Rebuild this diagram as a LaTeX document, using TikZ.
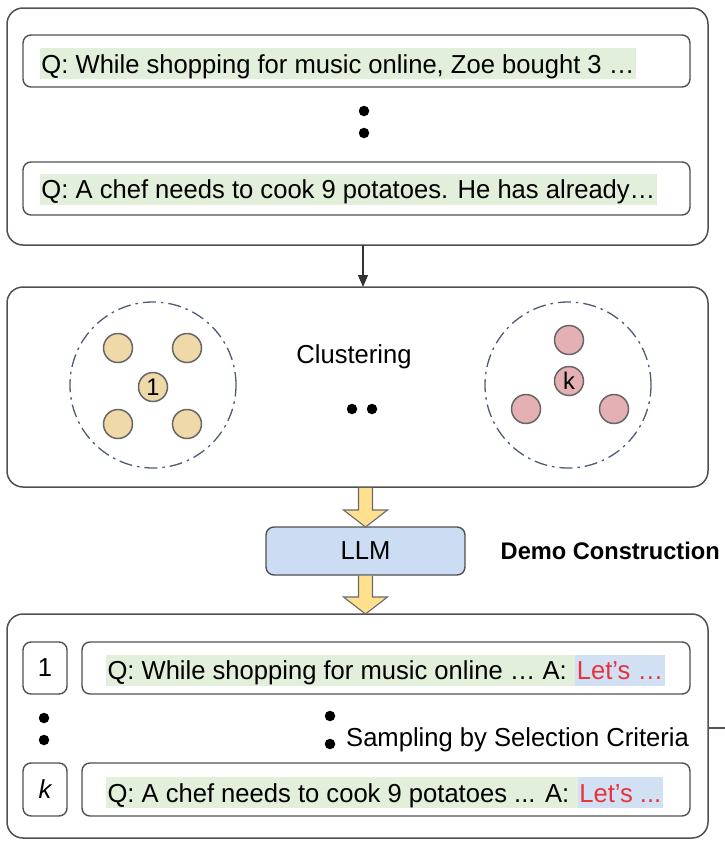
\documentclass[tikz,border=0pt]{standalone}
\usepackage{fontspec}
\setmainfont{Liberation Sans}[FakeStretch=0.984]
\usetikzlibrary{arrows.meta,calc}
\definecolor{edge}{HTML}{505050}
\definecolor{qgreen}{HTML}{E2EFDA}
\definecolor{hlblue}{HTML}{D2E0F3}
\definecolor{letred}{HTML}{E8323C}
\definecolor{llmblue}{HTML}{CCDDF3}
\definecolor{ayellow}{HTML}{FFE08F}
\definecolor{ctan}{HTML}{EFD9A8}
\definecolor{cpink}{HTML}{E4B0B4}
\definecolor{dashc}{HTML}{4F5B75}
\definecolor{ptedge}{HTML}{666666}
\newcommand\greenhl[1]{{\setlength{\fboxsep}{0pt}\colorbox{qgreen}{\rule[-6pt]{0pt}{31pt}\hspace{1.5pt}#1\hspace{1.5pt}}}}
\newcommand\bluehl[1]{{\setlength{\fboxsep}{0pt}\colorbox{hlblue}{\rule[-6pt]{0pt}{31pt}\hspace{1.5pt}#1\hspace{1.5pt}}}}
\begin{document}
\begin{tikzpicture}[x=1pt,y=-1pt,
 font=\fontsize{26}{30}\selectfont,
 outerbox/.style={draw=edge, line width=1.5pt, rounded corners=16pt, inner sep=0pt, outer sep=0pt},
 innerbox/.style={draw=edge, line width=1.4pt, rounded corners=8pt, inner sep=0pt, outer sep=0pt},
 qtext/.style={inner sep=0pt, outer sep=0pt, anchor=west},
 bigdot/.style={circle, fill=black, inner sep=0pt, minimum size=10.5pt},
 cluster/.style={circle, draw=dashc, line width=1.3pt, dash pattern=on 13pt off 5pt on 2.5pt off 5pt, inner sep=0pt, minimum size=166pt},
 tanpt/.style={circle, draw=ptedge, fill=ctan, line width=1.5pt, inner sep=0pt, minimum size=29pt, font=\fontsize{24}{26}\selectfont},
 pinkpt/.style={circle, draw=ptedge, fill=cpink, line width=1.5pt, inner sep=0pt, minimum size=29pt, font=\fontsize{24}{26}\selectfont},
 yarrow/.style={draw=edge!85, fill=ayellow, line width=1.1pt, line join=miter},
 conn/.style={draw=black!80, line width=1.2pt, -{Triangle[length=12pt,width=10pt]}},
 plainline/.style={draw=edge, line width=1.3pt}
]
\useasboundingbox (0,0) rectangle (725,841);

% ---------- top box ----------
\node[outerbox, minimum width=701pt, minimum height=237pt] (top) at (357.5,126.5) {};
\node[innerbox, minimum width=667pt, minimum height=52pt] (q1box) at (356.5,61) {};
\node[qtext] (q1) at (40,63.5) {\greenhl{Q: While shopping for music online, Zoe bought 3 …}};
\node[bigdot] (td1) at (364,111) {};
\node[bigdot] (td2) at (364,133) {};
\node[innerbox, minimum width=667pt, minimum height=53pt] (q2box) at (356.5,188.5) {};
\node[qtext] (q2) at (40,189) {\greenhl{Q: A chef needs to cook 9 potatoes. He has already…}};

% ---------- clustering box ----------
\node[outerbox, minimum width=701pt, minimum height=200pt] (mid) at (357.5,387) {};
\node[cluster] (cl1) at (153,385) {};
\node[tanpt] (p11) at (118,348) {};
\node[tanpt] (p12) at (187,348) {};
\node[tanpt] (p13) at (153,387) {1};
\node[tanpt] (p14) at (118,424) {};
\node[tanpt] (p15) at (187,424) {};
\node (clus) at (354,357) {Clustering};
\node[bigdot] (md1) at (352,409) {};
\node[bigdot] (md2) at (372,409) {};
\node[cluster] (clk) at (568,385) {};
\node[pinkpt] (pk1) at (569,340) {};
\node[pinkpt] (pk2) at (569,381) {k};
\node[pinkpt] (pk3) at (526,409) {};
\node[pinkpt] (pk4) at (614,409) {};

% ---------- LLM ----------
\node[innerbox, fill=llmblue, minimum width=199pt, minimum height=48pt] (llm) at (365.5,551) {LLM};
\node[anchor=east, inner sep=0pt, font=\bfseries\fontsize{24}{30}\selectfont] (demo) at (720,551) {Demo Construction};

% ---------- bottom box ----------
\node[outerbox, minimum width=701pt, minimum height=224pt] (bot) at (357.5,726) {};
\node[innerbox, minimum width=44pt, minimum height=52pt] (n1) at (45,668) {1};
\node[innerbox, minimum width=608pt, minimum height=52pt] (a1box) at (386,668) {};
\node[qtext] (a1) at (106,670) {\greenhl{Q: While shopping for music online … A: }\bluehl{\color{letred}Let’s …}};
\node[bigdot] (bd1) at (44,718) {};
\node[bigdot] (bd2) at (44,740) {};
\node[bigdot] (bd3) at (330,716) {};
\node[bigdot] (bd4) at (330,744) {};
\node[anchor=base west, inner sep=0pt] (samp) at (346,746) {Sampling by Selection Criteria};
\node[innerbox, minimum width=44pt, minimum height=53pt] (nk) at (45,789.5) {\itshape k};
\node[innerbox, minimum width=608pt, minimum height=53pt] (akbox) at (386,789.5) {};
\node[qtext] (ak) at (106,792.5) {\greenhl{Q: A chef needs to cook 9 potatoes ... A: }\bluehl{\color{letred}Let’s ...}};

% ---------- connectors ----------
\draw[conn] (top.south -| 363,0) -- (mid.north -| 363,0);

\coordinate (a1s) at ($(llm.north |- mid.south)+(0,0.8)$);
\coordinate (a1t) at (llm.north);
\draw[yarrow] ($(a1s)+(-7,0)$) -- ($(a1t)+(-7,-17)$) -- ($(a1t)+(-22,-17)$) -- (a1t)
  -- ($(a1t)+(22,-17)$) -- ($(a1t)+(7,-17)$) -- ($(a1s)+(7,0)$);

\coordinate (a2s) at ($(llm.south)+(0,0.8)$);
\coordinate (a2t) at (llm.south |- bot.north);
\draw[yarrow] ($(a2s)+(-7,0)$) -- ($(a2t)+(-7,-17)$) -- ($(a2t)+(-22,-17)$) -- (a2t)
  -- ($(a2t)+(22,-17)$) -- ($(a2t)+(7,-17)$) -- ($(a2s)+(7,0)$);

\coordinate (rend) at (725,728);
\draw[plainline] (bot.east |- rend) -- (rend);
\end{tikzpicture}
\end{document}
